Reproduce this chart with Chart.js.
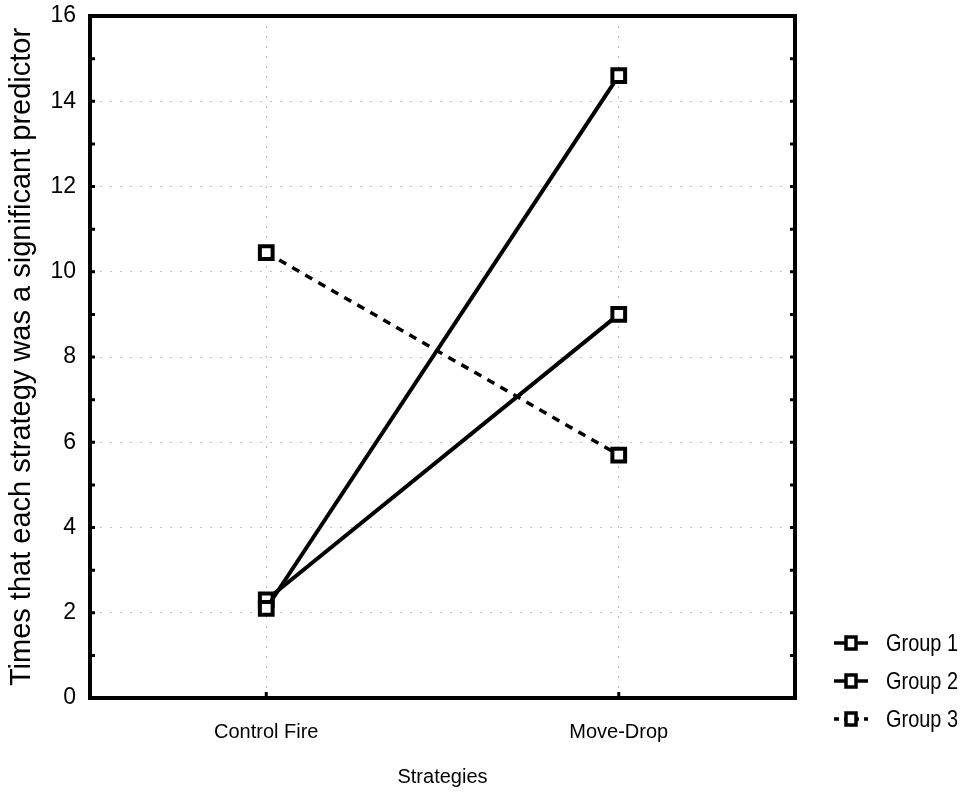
<!DOCTYPE html>
<html>
<head>
<meta charset="utf-8">
<script src="https://cdn.jsdelivr.net/npm/chart.js@4.4.0/dist/chart.umd.min.js"></script>
<style>
  html, body { margin: 0; padding: 0; background: #fff; }
  #wrap { width: 969px; height: 793px; position: relative; }
</style>
</head>
<body>
<div id="wrap"><canvas id="chart"></canvas></div>
<script>
// --- Data ---
const strategies = ["Control Fire", "Move-Drop"];
const group1 = [2.1, 14.6];
const group2 = [2.3, 9.0];
const group3 = [10.45, 5.7];
const groupNames = ["Group 1", "Group 2", "Group 3"];
const yTicks = [0, 2, 4, 6, 8, 10, 12, 14, 16];

const SANS = "'Liberation Sans', Arial, sans-serif";

// frame, inward ticks and legend
const framePlugin = {
  id: "frame",
  afterDraw(chart) {
    const { ctx, chartArea: a, scales } = chart;
    ctx.save();
    ctx.strokeStyle = "#000";
    ctx.lineWidth = 4;
    ctx.strokeRect(a.left, a.top, a.right - a.left, a.bottom - a.top);

    // small inward ticks at every unit on both sides
    ctx.lineWidth = 3;
    for (let v = 1; v < 16; v++) {
      const y = scales.y.getPixelForValue(v);
      ctx.beginPath();
      ctx.moveTo(a.left, y); ctx.lineTo(a.left + 5, y);
      ctx.moveTo(a.right, y); ctx.lineTo(a.right - 5, y);
      ctx.stroke();
    }
    strategies.forEach((s, i) => {
      const x = scales.x.getPixelForValue(i);
      ctx.beginPath();
      ctx.moveTo(x, a.bottom); ctx.lineTo(x, a.bottom - 6);
      ctx.stroke();
    });

    // legend
    const lx = 834, lw = 34, tx = 886;
    const rows = [643, 681, 719];
    chart.data.datasets.forEach((ds, i) => {
      const y = rows[i];
      ctx.strokeStyle = "#000";
      ctx.lineWidth = 3.5;
      ctx.setLineDash(ds.borderDash ? [5, 5] : []);
      ctx.beginPath();
      ctx.moveTo(lx, y); ctx.lineTo(lx + lw, y);
      ctx.stroke();
      ctx.setLineDash([]);
      ctx.fillStyle = "#fff";
      ctx.lineWidth = 3.5;
      ctx.fillRect(lx + lw / 2 - 5, y - 6, 10, 12);
      ctx.strokeRect(lx + lw / 2 - 5, y - 6, 10, 12);
      // condensed text, like the original's narrow face
      ctx.save();
      ctx.translate(tx, y + 1);
      ctx.scale(0.83, 1);
      ctx.fillStyle = "#000";
      ctx.font = "24px " + SANS;
      ctx.textBaseline = "middle";
      ctx.fillText(ds.label, 0, 0);
      ctx.restore();
    });
    ctx.restore();
  }
};

const ctx = document.getElementById("chart").getContext("2d");
new Chart(ctx, {
  type: "line",
  data: {
    labels: strategies,
    datasets: [
      { label: groupNames[0], data: group1 },
      { label: groupNames[1], data: group2 },
      { label: groupNames[2], data: group3, borderDash: [8, 7], borderWidth: 3.5 }
    ].map(ds => Object.assign({
      borderColor: "#000",
      borderWidth: 4,
      pointStyle: "rect",
      pointRadius: 9,
      pointBorderWidth: 4,
      pointBackgroundColor: "#fff",
      pointBorderColor: "#000",
      tension: 0,
      fill: false
    }, ds))
  },
  options: {
    responsive: true,
    maintainAspectRatio: false,
    animation: false,
    layout: { padding: { top: 16, right: 174, left: 0, bottom: 0 } },
    plugins: {
      legend: { display: false },
      tooltip: { enabled: false }
    },
    scales: {
      x: {
        offset: true,
        grid: { color: "#c4c4c4", lineWidth: 1, drawTicks: false },
        border: { display: false, dash: [2, 8] },
        ticks: { color: "#000", font: { family: SANS, size: 20 }, padding: 22 },
        title: { display: true, text: "Strategies", color: "#000", font: { family: SANS, size: 20 }, padding: { top: 22 } },
        afterFit: s => { s.height = 95; s.paddingLeft = 0; s.paddingRight = 0; }
      },
      y: {
        min: 0,
        max: 16,
        afterBuildTicks: s => { s.ticks = yTicks.map(v => ({ value: v })); },
        grid: { color: "#c4c4c4", lineWidth: 1, drawTicks: false },
        border: { display: false, dash: [2, 8] },
        ticks: { color: "#000", font: { family: SANS, size: 23 }, padding: 14 },
        title: { display: true, text: "Times that each strategy was a significant predictor", color: "#000", font: { family: SANS, size: 29 }, padding: { top: 5, bottom: 0 } },
        afterFit: s => { s.width = 90; s.paddingTop = 0; s.paddingBottom = 0; }
      }
    }
  },
  plugins: [framePlugin]
});
</script>
</body>
</html>
